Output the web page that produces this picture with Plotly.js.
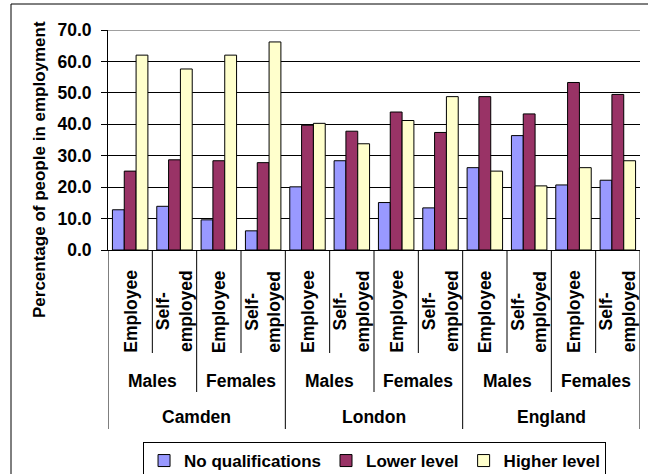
<!DOCTYPE html>
<html>
<head>
<meta charset="utf-8">
<script src="https://cdn.plot.ly/plotly-3.0.1.min.js"></script>
<style>html,body{margin:0;padding:0;background:#fff;}#chart{width:648px;height:474px;}</style>
</head>
<body>
<div id="chart"></div>
<script>
// ---- data ----
const regions = ['Camden', 'London', 'England'];
const sexes = ['Males', 'Females'];
const types = ['Employee', 'Self-employed'];
const typeLabels = ['Employee', 'Self-<br>employed'];
const seriesNames = ['No qualifications', 'Lower level', 'Higher level'];
const noQualifications = [12.8, 13.9, 9.6, 6.1, 20.1, 28.4, 15.1, 13.4, 26.2, 36.4, 20.7, 22.2];
const lowerLevel      = [25.1, 28.7, 28.4, 27.8, 39.7, 37.8, 43.9, 37.4, 48.8, 43.3, 53.3, 49.5];
const higherLevel     = [62.0, 57.6, 62.0, 66.2, 40.3, 33.8, 41.2, 48.8, 25.1, 20.4, 26.2, 28.4];
const yTitle = 'Percentage of people in employment';

// ---- build ----
const FONT = '"Liberation Sans", Arial, sans-serif';
const cats = [];
regions.forEach(r => sexes.forEach(s => types.forEach(t => cats.push(r + ' / ' + s + ' / ' + t))));

const colors = ['#9999FF', '#993366', '#FFFFCC'];
const values = [noQualifications, lowerLevel, higherLevel];
const traces = values.map((v, k) => ({
  type: 'bar', x: cats, y: v, name: seriesNames[k],
  marker: {color: colors[k], line: {color: '#000', width: 1}},
  hoverinfo: 'y+name'
}));

const n = cats.length;
const perSex = types.length, perRegion = sexes.length * types.length;
const py = p => (250 - p) / 220; // pixel y -> paper
const px = p => (p - 108) / 532; // pixel x -> paper
const shapes = [];
for (let b = 0; b <= n; b++) {
  let yEnd;
  if (b % perRegion === 0) yEnd = 429;
  else if (b % perSex === 0) yEnd = 392;
  else yEnd = 353;
  shapes.push({type: 'line', xref: 'x', yref: 'paper', x0: b - 0.5, x1: b - 0.5, y0: 0, y1: py(yEnd),
    line: {color: '#000', width: 1}});
}
// top boundary line (grey)
shapes.push({type: 'line', xref: 'paper', yref: 'y', x0: 0, x1: 1, y0: 70, y1: 70, line: {color: '#808080', width: 1.5}});
// outer chart border
shapes.push({type: 'rect', xref: 'paper', yref: 'paper', x0: px(11), x1: px(660),
  y0: py(480), y1: py(4), line: {color: '#000', width: 1}});

const annotations = [];
const bold = sz => ({family: FONT, size: sz, color: '#000', weight: 700});
// y-axis title
annotations.push({xref: 'paper', yref: 'paper', x: px(39), y: py(170), text: yTitle, textangle: -90,
  showarrow: false, xanchor: 'center', yanchor: 'middle', font: bold(17)});
cats.forEach((c, i) => {
  annotations.push({xref: 'x', yref: 'paper', x: i, y: py(311.5), text: typeLabels[i % perSex],
    textangle: -90, showarrow: false, xanchor: 'center', yanchor: 'middle', align: 'center', font: bold(17.5)});
});
regions.forEach((r, ri) => {
  sexes.forEach((s, si) => {
    annotations.push({xref: 'x', yref: 'paper', x: ri * perRegion + si * perSex + (perSex - 1) / 2, y: py(381),
      text: s, showarrow: false, xanchor: 'center', yanchor: 'middle', font: bold(17.5)});
  });
  annotations.push({xref: 'x', yref: 'paper', x: ri * perRegion + (perRegion - 1) / 2, y: py(417),
    text: r, showarrow: false, xanchor: 'center', yanchor: 'middle', font: bold(17.5)});
});

const layout = {
  width: 648, height: 474,
  margin: {l: 108, r: 8, t: 30, b: 224, autoexpand: false},
  paper_bgcolor: '#fff', plot_bgcolor: '#fff',
  font: {family: FONT, color: '#000'},
  barmode: 'group', bargap: 0.2, bargroupgap: 0,
  showlegend: true,
  legend: {orientation: 'h', x: 0.501, xanchor: 'center', y: py(442), yanchor: 'top',
    bordercolor: '#000', borderwidth: 1, font: bold(17), traceorder: 'normal', bgcolor: '#fff',
    itemwidth: 30},
  xaxis: {type: 'category', categoryorder: 'array', categoryarray: cats, range: [-0.5, n - 0.5],
    showticklabels: false, ticks: '', showgrid: false, zeroline: false,
    showline: true, linecolor: '#000', linewidth: 1, fixedrange: true},
  yaxis: {range: [0, 70], dtick: 10, tick0: 0, tickformat: '.1f',
    showgrid: true, gridcolor: '#000', gridwidth: 1, zeroline: false,
    showline: true, linecolor: '#000', linewidth: 1,
    ticks: 'outside', ticklen: 6, tickcolor: '#000', ticklabelstandoff: 6,
    tickfont: bold(17.5), fixedrange: true},
  shapes: shapes,
  annotations: annotations
};

Plotly.newPlot('chart', traces, layout, {displayModeBar: false, staticPlot: true});
</script>
</body>
</html>
